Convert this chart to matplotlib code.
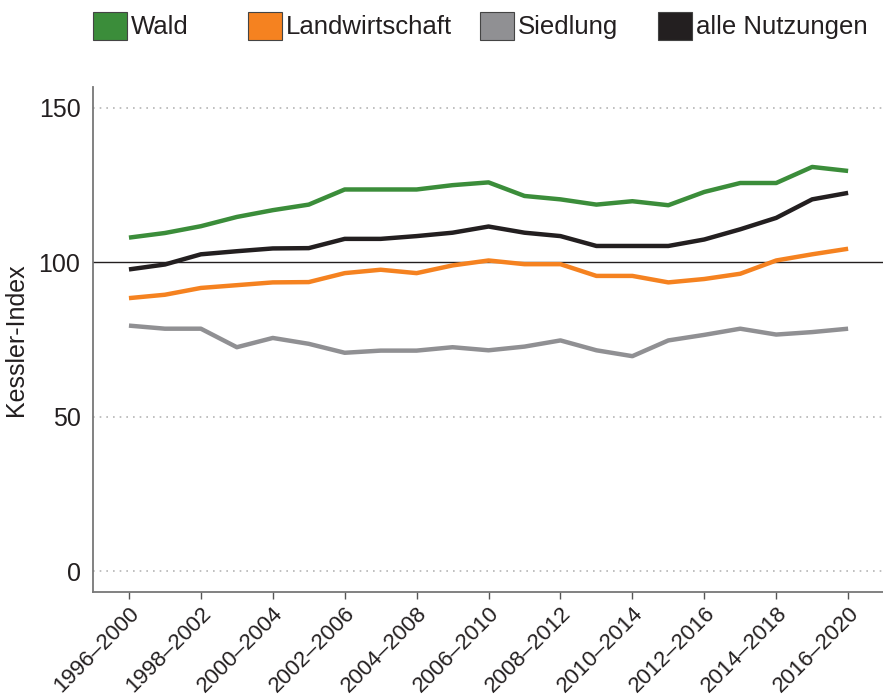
import numpy as np
import matplotlib
matplotlib.use('Agg')
import matplotlib.pyplot as plt
from matplotlib.patches import Rectangle

# Zeitraeume (gleitende 5-Jahres-Perioden)
periods = ['%d\u2013%d' % (y, y + 4) for y in range(1996, 2017)]
tick_labels = periods[::2]

wald = [108, 109.5, 111.7, 114.7, 116.9, 118.7, 123.6, 123.6, 123.6, 125, 125.9,
        121.5, 120.4, 118.7, 119.8, 118.5, 122.8, 125.7, 125.7, 130.9, 129.6]
landwirtschaft = [88.4, 89.5, 91.7, 92.6, 93.5, 93.6, 96.5, 97.6, 96.5, 99.0, 100.6,
                  99.4, 99.4, 95.6, 95.6, 93.5, 94.6, 96.3, 100.6, 102.6, 104.4]
siedlung = [79.5, 78.5, 78.5, 72.5, 75.5, 73.6, 70.7, 71.4, 71.4, 72.5, 71.5,
            72.7, 74.7, 71.5, 69.6, 74.7, 76.5, 78.5, 76.6, 77.4, 78.5]
alle = [97.7, 99.3, 102.6, 103.6, 104.5, 104.6, 107.6, 107.6, 108.5, 109.6, 111.6,
        109.6, 108.5, 105.3, 105.3, 105.3, 107.4, 110.7, 114.4, 120.4, 122.5]

series = [('Wald', wald, '#3b8d3a'),
          ('Landwirtschaft', landwirtschaft, '#f58220'),
          ('Siedlung', siedlung, '#909093'),
          ('alle Nutzungen', alle, '#231f20')]

plt.rcParams['font.family'] = ['Liberation Sans', 'DejaVu Sans']

W, H = 883, 697
fig = plt.figure(figsize=(W / 100, H / 100), dpi=100)
ax = fig.add_axes([93 / W, 1 - 592 / H, 790 / W, (592 - 87) / H])

x = np.arange(len(periods))
for name, vals, col in series:
    ax.plot(x, vals, color=col, lw=3.2, solid_capstyle='butt', zorder=3)

for yv in [0, 50, 150]:
    ax.axhline(yv, color='#b5b5b5', lw=1.2, ls=(0, (1, 3)), zorder=1)
ax.axhline(100, color='#231f20', lw=1.0, zorder=2)

ax.set_xlim(-1, 20.97)
ax.set_ylim(-6.8, 156.8)
ax.set_yticks([0, 50, 100, 150])
ax.set_xticks(x[::2])
ax.set_xticklabels(tick_labels, rotation=45, ha='right', rotation_mode='anchor',
                   fontsize=16, color='#231f20')
ax.tick_params(axis='y', length=0, labelsize=18, pad=9, labelcolor='#231f20')
ax.tick_params(axis='x', length=5, width=1, color='#555555', pad=3)

for s in ['top', 'right']:
    ax.spines[s].set_visible(False)
for s in ['left', 'bottom']:
    ax.spines[s].set_color('#777777')
    ax.spines[s].set_linewidth(1.3)

ax.set_ylabel('Kessler-Index', fontsize=18, color='#231f20', labelpad=8)

# Legende oben, von Hand gesetzt
box_left = [93, 248, 480, 658]
for (name, vals, col), bx in zip(series, box_left):
    fig.patches.append(Rectangle((bx / W, 1 - 40 / H), 34 / W, 28 / H,
                                 transform=fig.transFigure, facecolor=col,
                                 edgecolor='#444444', lw=0.8))
    fig.text((bx + 38) / W, 1 - 27 / H, name, fontsize=18.5, color='#231f20',
             va='center', ha='left')

fig.savefig('out.png', dpi=100)
